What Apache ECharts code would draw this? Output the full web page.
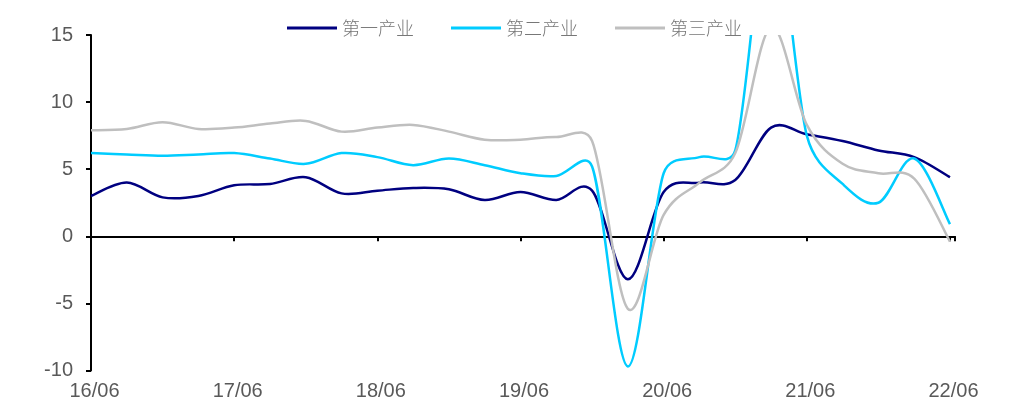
<!DOCTYPE html>
<html>
<head>
<meta charset="utf-8">
<script src="https://cdn.jsdelivr.net/npm/echarts@6/dist/echarts.min.js"></script>
<style>
  html, body { margin: 0; padding: 0; background: #fff; }
  #chart { width: 1009px; height: 408px; }
</style>
</head>
<body>
<div id="chart"></div>
<script>
// Quarter labels, 2016Q2 .. 2022Q2
const quarters = ['16/06','16/09','16/12','17/03','17/06','17/09','17/12','18/03','18/06','18/09','18/12','19/03','19/06',
                  '19/09','19/12','20/03','20/06','20/09','20/12','21/03','21/06','21/09','21/12','22/03','22/06'];

// Year-on-year growth by sector, %
const seriesNames = ['第一产业', '第二产业', '第三产业'];
const primary   = [3.0, 4.0, 2.9, 3.0, 3.8, 3.9, 4.4, 3.2, 3.4, 3.6, 3.5, 2.7, 3.3, 2.7, 3.4, -3.2, 3.3, 4.0, 4.2, 8.1, 7.6, 7.1, 6.4, 5.9, 4.4];
const secondary = [6.2, 6.1, 6.0, 6.1, 6.2, 5.8, 5.4, 6.2, 5.9, 5.3, 5.8, 5.3, 4.7, 4.5, 5.2, -9.7, 4.7, 5.9, 6.4, 24.4, 7.5, 3.9, 2.5, 5.8, 0.9];
const tertiary  = [7.9, 8.0, 8.5, 8.0, 8.1, 8.4, 8.6, 7.8, 8.1, 8.3, 7.8, 7.2, 7.2, 7.4, 7.1, -5.4, 1.6, 4.0, 6.2, 15.6, 8.3, 5.4, 4.7, 4.3, -0.4];

const colors = ['#000080', '#00CCFF', '#BFBFBF'];
const pairs = arr => arr.map((v, i) => [i, v]);

// Smoothed path through pixel points: Catmull-Rom arms (1/6 of the neighbour span),
// each arm capped at half of its own segment so steep jumps don't balloon.
function smoothPath(pts) {
  const n = pts.length;
  const dist = (a, b) => Math.hypot(b[0] - a[0], b[1] - a[1]);
  const arm = (i, dir) => {
    const prev = pts[Math.max(i - 1, 0)], next = pts[Math.min(i + 1, n - 1)];
    let vx = (next[0] - prev[0]) / 6, vy = (next[1] - prev[1]) / 6;
    const seg = dir > 0 ? dist(pts[i], next) : dist(prev, pts[i]);
    const len = Math.hypot(vx, vy);
    const cap = seg / 2;
    if (len > cap && len > 0) { vx *= cap / len; vy *= cap / len; }
    return [pts[i][0] + dir * vx, pts[i][1] + dir * vy];
  };
  let d = 'M' + pts[0][0] + ' ' + pts[0][1];
  for (let i = 0; i < n - 1; i++) {
    const c1 = arm(i, 1), c2 = arm(i + 1, -1);
    d += ' C' + c1[0] + ' ' + c1[1] + ' ' + c2[0] + ' ' + c2[1] + ' ' + pts[i + 1][0] + ' ' + pts[i + 1][1];
  }
  return d;
}

function lineSeries(name, values, color) {
  const data = pairs(values);
  return {
    type: 'custom',
    name: name,
    xAxisIndex: 0,
    color: color,
    itemStyle: { color: color },
    data: data,
    renderItem: (params, api) => {
      if (params.dataIndex !== 0) return { type: 'group', children: [] };
      const pts = data.map(p => api.coord(p));
      const cs = params.coordSys;
      return {
        type: 'group',
        clipPath: { type: 'rect', shape: { x: cs.x - 2, y: cs.y, width: cs.width + 4, height: cs.height } },
        children: [{
          type: 'path',
          shape: { pathData: smoothPath(pts) },
          style: { fill: 'none', stroke: color, lineWidth: 2.5, lineJoin: 'round' }
        }]
      };
    }
  };
}

const chart = echarts.init(document.getElementById('chart'), null, { renderer: 'canvas' });

const xMax = 24.14;
const labelFont = { fontFamily: '"Liberation Sans", Arial, sans-serif', fontSize: 20, color: '#595959' };

chart.setOption({
  animation: false,
  backgroundColor: '#ffffff',
  color: colors,
  legend: {
    left: 282,
    top: 14,
    itemWidth: 50,
    itemHeight: 3,
    itemGap: 37,
    icon: 'rect',
    textStyle: { fontFamily: '"Noto Sans CJK SC", sans-serif', fontSize: 18, color: '#777777', fontWeight: 300 },
    data: seriesNames
  },
  grid: { left: 91, right: 54, top: 35, bottom: 37.5, containLabel: false, outerBoundsMode: 'none' },
  xAxis: [
    {
      // bottom axis: carries the date labels
      type: 'value', min: 0, max: xMax, interval: 4, position: 'bottom',
      axisLine: { show: false, onZero: false },
      axisTick: { show: false },
      splitLine: { show: false },
      axisLabel: Object.assign({
        margin: 11,
        padding: [0, 0, 0, 7],
        showMaxLabel: false,
        formatter: v => quarters[Math.round(v)] || ''
      }, labelFont)
    },
    {
      // zero line with yearly ticks
      type: 'value', min: 0, max: xMax, interval: 4, position: 'bottom',
      axisLine: { show: true, onZero: true, onZeroAxisIndex: 0, lineStyle: { color: '#000', width: 2 } },
      axisTick: { show: true, inside: false, length: 5, lineStyle: { color: '#000', width: 2 } },
      axisLabel: { show: false },
      splitLine: { show: false }
    }
  ],
  yAxis: {
    type: 'value', min: -10, max: 15, interval: 5,
    axisLine: { show: true, onZero: false, lineStyle: { color: '#000', width: 2 } },
    axisTick: { show: true, length: 5, lineStyle: { color: '#000', width: 2 } },
    splitLine: { show: false },
    axisLabel: Object.assign({ margin: 18 }, labelFont)
  },
  series: [
    lineSeries(seriesNames[0], primary, colors[0]),
    lineSeries(seriesNames[1], secondary, colors[1]),
    lineSeries(seriesNames[2], tertiary, colors[2])
  ]
});
</script>
</body>
</html>
